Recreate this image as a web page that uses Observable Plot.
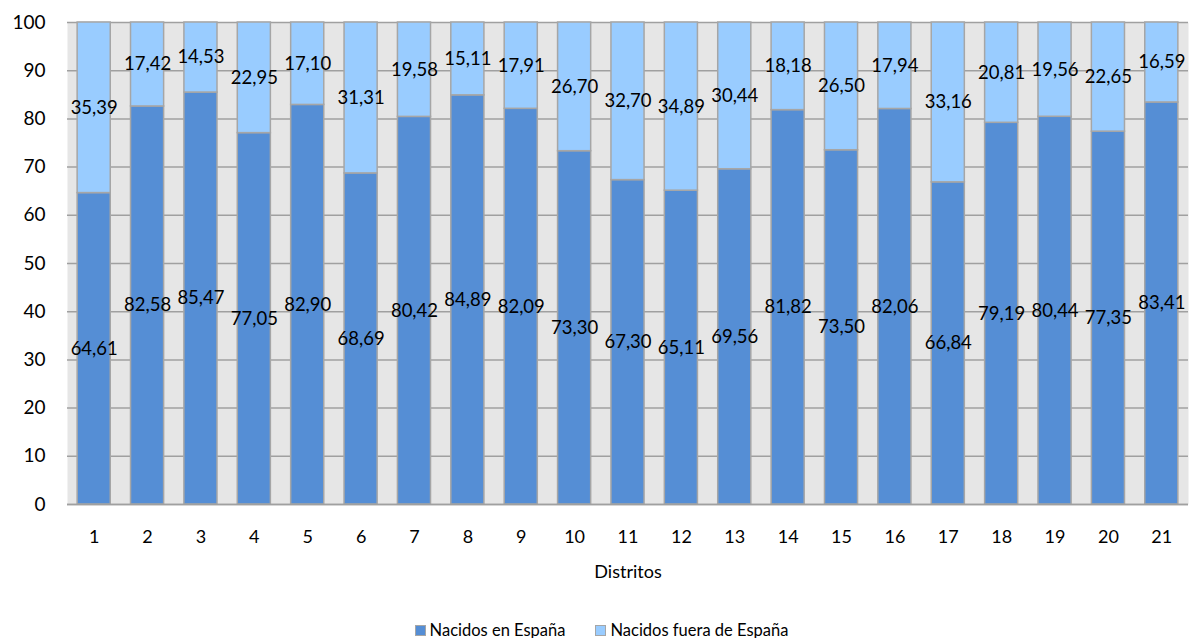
<!DOCTYPE html>
<html><head><meta charset="utf-8">
<script src="https://cdn.jsdelivr.net/npm/d3@7"></script>
<script src="https://cdn.jsdelivr.net/npm/@observablehq/plot@0.6"></script>
<style>
body{margin:0;background:#fff;font-family:Lato,"Open Sans",sans-serif;}
#chart svg{display:block}
#legend{display:flex;justify-content:center;gap:30px;font-size:16.5px;line-height:20px;color:#000;margin-left:14px;margin-top:0px}
#legend span.sw{display:inline-block;width:9px;height:9px;margin-right:4px;border:1px solid #a6a6a6;vertical-align:middle;position:relative;top:-1px}
</style></head>
<body>
<div id="chart"></div>
<div id="legend"></div>
<script>
const distritos = ["1","2","3","4","5","6","7","8","9","10","11","12","13","14","15","16","17","18","19","20","21"];
const nacidosEspana = [64.61, 82.58, 85.47, 77.05, 82.90, 68.69, 80.42, 84.89, 82.09, 73.30, 67.30, 65.11, 69.56, 81.82, 73.50, 82.06, 66.84, 79.19, 80.44, 77.35, 83.41];
const nacidosFuera = [35.39, 17.42, 14.53, 22.95, 17.10, 31.31, 19.58, 15.11, 17.91, 26.70, 32.70, 34.89, 30.44, 18.18, 26.50, 17.94, 33.16, 20.81, 19.56, 22.65, 16.59];
const series = ["Nacidos en España", "Nacidos fuera de España"];
const colors = ["#558ed5", "#99ccff"];
const yTicks = [0,10,20,30,40,50,60,70,80,90,100];

const rows = [];
distritos.forEach((d, i) => {
  rows.push({distrito: d, serie: series[0], value: nacidosEspana[i]});
  rows.push({distrito: d, serie: series[1], value: nacidosFuera[i]});
});
const fmt = v => d3.format(".2f")(v).replace(".", ",");

const chart = Plot.plot({
  width: 1189,
  height: 620,
  marginLeft: 67,
  marginRight: 1,
  marginTop: 22,
  marginBottom: 116,
  style: {fontFamily: "Lato, 'Open Sans', sans-serif", fontSize: "18px", color: "#000", background: "#fff"},
  x: {domain: distritos, paddingInner: 0.38, paddingOuter: 0.19, round: false, label: null},
  y: {domain: [0, 100], ticks: yTicks, label: null},
  color: {domain: series, range: colors},
  marks: [
    Plot.frame({fill: "#e6e6e6", stroke: null}),
    Plot.gridY(yTicks, {stroke: "#a0a0a0", strokeOpacity: 1, strokeWidth: 1.5}),
    Plot.barY(rows, Plot.stackY({x: "distrito", y: "value", fill: "serie", z: "serie", stroke: "#a6a6a6", strokeWidth: 1.5, order: series})),
    Plot.ruleX([0], {frameAnchor: "left", stroke: "#a0a0a0", strokeWidth: 1.5}),
    Plot.ruleY([0], {stroke: "#a0a0a0", strokeWidth: 1.5}),
    Plot.text(rows, Plot.stackY({x: "distrito", y: "value", z: "serie", text: d => fmt(d.value), order: series, fill: "#000", fontSize: 18.5})),
    Plot.axisY({ticks: yTicks, tickSize: 0, tickPadding: 22, fontSize: 19, label: null}),
    Plot.axisX({tickSize: 0, tickPadding: 26, fontSize: 18, label: null}),
    Plot.text(["Distritos"], {frameAnchor: "bottom", dy: 73, fontSize: 18, fill: "#000"})
  ]
});
document.getElementById("chart").appendChild(chart);

const legend = document.getElementById("legend");
series.forEach((s, i) => {
  const item = document.createElement("div");
  item.innerHTML = `<span class="sw" style="background:${colors[i]}"></span>${s}`;
  legend.appendChild(item);
});
</script>
</body></html>
